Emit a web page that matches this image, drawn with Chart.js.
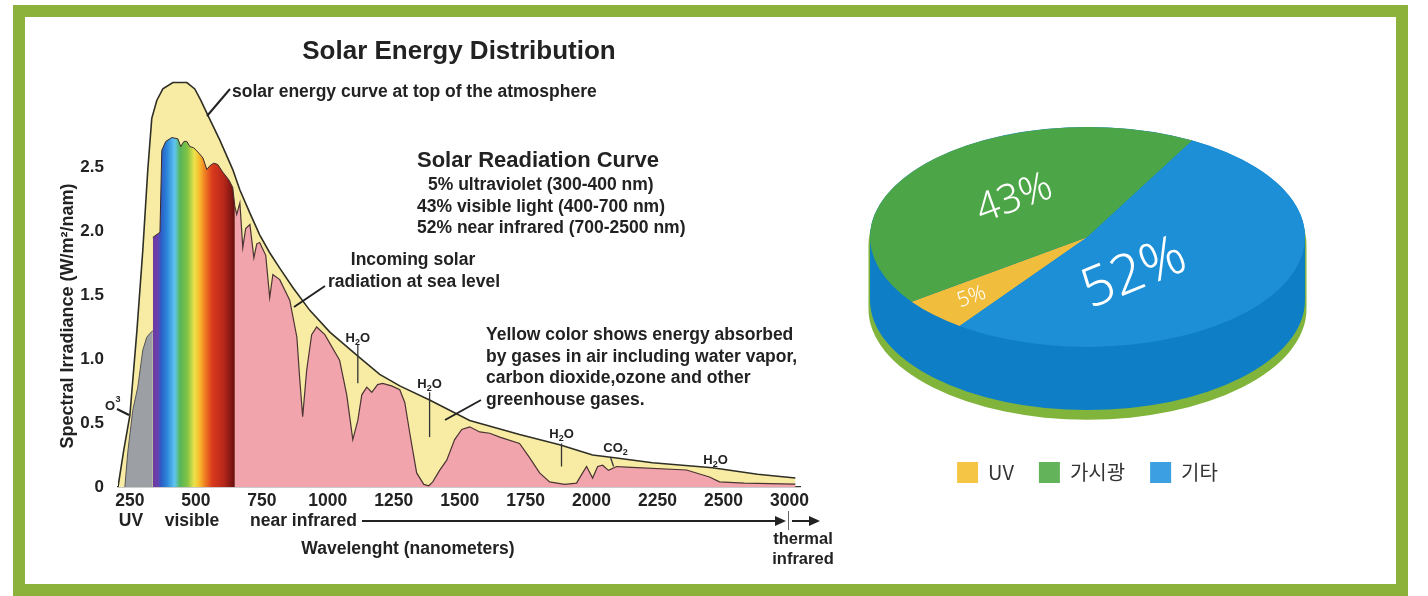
<!DOCTYPE html>
<html><head><meta charset="utf-8">
<script src="https://cdn.jsdelivr.net/npm/chart.js@4.4.1/dist/chart.umd.min.js"></script>
<style>
html,body{margin:0;padding:0;background:#fff;}
#wrap{position:relative;width:1428px;height:596px;overflow:hidden;background:#fff;}
#frame{position:absolute;left:13px;top:5px;width:1371px;height:567px;border:12px solid #8cb23c;background:#fff;}
canvas{position:absolute;left:0;top:0;}
</style></head>
<body>
<div id="wrap">
  <div id="frame"></div>
  <canvas id="spec" width="1428" height="596"></canvas>
  <canvas id="pie" width="1428" height="596"></canvas>
</div>
<script>
// ---------------- DATA ----------------
// Solar spectrum at top of the atmosphere (wavelength nm, W/m2/nm)
const toaWavelength = [205,227,250,277,299,318,333,352,375,413,466,496,519,549,591,640,667,705,742,780,818,867,932,1008,1121,1197,1273,1386,1538,1727,1879,2004,2080,2231,2458,2758,3045];
const toaIrradiance = [0,0.29,0.56,1.23,1.85,2.48,2.88,3.02,3.11,3.16,3.16,3.11,3.02,2.89,2.71,2.48,2.32,2.14,1.97,1.83,1.71,1.56,1.38,1.21,1.01,0.88,0.79,0.68,0.52,0.41,0.33,0.25,0.23,0.19,0.15,0.10,0.07];
// Sea level: ultraviolet part
const uvWavelength = [231,242,261,280,299,314,326,337];
const uvIrradiance = [0,0.27,0.60,0.78,1.07,1.17,1.20,1.22];
// Sea level: visible part
const visWavelength = [337,364,371,386,409,432,443,455,466,477,492,511,527,542,553,568,583,602,625,640,648];
const visIrradiance = [1.95,1.99,2.63,2.70,2.73,2.72,2.66,2.70,2.70,2.66,2.65,2.61,2.57,2.48,2.51,2.53,2.52,2.46,2.40,2.34,2.19];
// Sea level: infrared part
const irWavelength = [648,655,667,678,689,705,720,731,742,765,780,792,818,856,883,894,905,920,939,958,989,1045,1072,1095,1114,1129,1148,1167,1189,1208,1242,1273,1292,1311,1337,1364,1383,1398,1424,1451,1481,1508,1538,1576,1614,1652,1727,1765,1803,1841,1898,1943,1966,1981,2004,2023,2042,2064,2095,2133,2360,2447,2485,2659,3045];
const irIrradiance = [2.19,2.13,2.22,1.87,2.02,2.05,1.79,1.90,1.91,1.81,1.48,1.66,1.62,1.46,1.17,0.84,0.55,0.91,1.19,1.25,1.19,0.99,0.72,0.37,0.52,0.72,0.78,0.74,0.80,0.81,0.79,0.76,0.66,0.42,0.11,0.02,0.01,0.04,0.13,0.21,0.37,0.45,0.47,0.43,0.42,0.39,0.34,0.23,0.11,0.04,0.02,0.03,0.11,0.16,0.07,0.16,0.17,0.13,0.16,0.156,0.133,0.078,0.04,0.03,0.023];

const xTickWavelengths = [250,500,750,1000,1250,1500,1750,2000,2250,2500,3000];
const xTickLabels = ['250','500','750','1000','1250','1500','1750','2000','2250','2500','3000'];
const yTickValues = [0,0.5,1.0,1.5,2.0,2.5];
const yTickLabels = ['0','0.5','1.0','1.5','2.0','2.5'];

// absorption markers (wavelength, label)
const absorbers = [
  {w:1114, label:['H','2','O'], top:1.16, from:1.11, to:0.81},
  {w:1386, label:['H','2','O'], top:0.80, from:0.74, to:0.39},
  {w:1886, label:['H','2','O'], top:0.41, from:0.34, to:0.16},
  {w:2091, label:['CO','2',''], top:0.30, from:0.23, to:0.16, lineW:2072},
  {w:2470, label:['H','2','O'], top:0.21}
];

// Pie data
const pieLabels = ['UV', '가시광', '기타'];
const pieValues = [5, 43, 52];

// ---------------- STYLE ----------------
const toAxis = w => w <= 2500 ? w : 2500 + (w - 2500) / 2;   // axis is compressed beyond 2500 nm
const pts = (ws, vs) => ws.map((w, i) => ({x: toAxis(w), y: vs[i]}));

const rainbowStops = [
  [337,'#6b3a9c'],[356,'#6a40b0'],[368,'#2d5cc4'],[390,'#2a84da'],[420,'#5fc6ef'],[440,'#56b55a'],
  [468,'#82c343'],[494,'#ece24c'],[512,'#f7c02f'],[536,'#ee7a22'],[562,'#d93a1c'],[608,'#b5261a'],[646,'#6a0f10']
];

Chart.defaults.font.family = "'Liberation Sans', Arial, sans-serif";

const FONT = "bold 17.5px 'Liberation Sans', Arial, sans-serif";
const textNotes = [
  {t:'solar energy curve at top of the atmosphere', x:232, y:92, a:'left'},
  {t:'Solar Readiation Curve', x:417, y:161, a:'left', f:"bold 22px 'Liberation Sans', Arial, sans-serif"},
  {t:'5% ultraviolet (300-400 nm)', x:428, y:185, a:'left'},
  {t:'43% visible light (400-700 nm)', x:417, y:207, a:'left'},
  {t:'52% near infrared (700-2500 nm)', x:417, y:228, a:'left'},
  {t:'Incoming solar', x:413, y:260, a:'center'},
  {t:'radiation at sea level', x:414, y:282, a:'center'},
  {t:'Yellow color shows energy absorbed', x:486, y:335, a:'left'},
  {t:'by gases in air including water vapor,', x:486, y:357, a:'left'},
  {t:'carbon dioxide,ozone and other', x:486, y:378, a:'left'},
  {t:'greenhouse gases.', x:486, y:400, a:'left'},
  {t:'UV', x:131, y:521, a:'center'},
  {t:'visible', x:192, y:521, a:'center'},
  {t:'near infrared', x:250, y:521, a:'left'},
  {t:'Wavelenght (nanometers)', x:408, y:549, a:'center'},
  {t:'thermal', x:803, y:539, a:'center', f:"bold 16.5px 'Liberation Sans', Arial, sans-serif"},
  {t:'infrared', x:803, y:559, a:'center', f:"bold 16.5px 'Liberation Sans', Arial, sans-serif"}
];
const pointerLines = [[230,89,207,116],[325,286,294,307],[481,400,445,420],[117,409,129,415]];

const notesPlugin = {
  id: 'notes',
  afterDraw(chart) {
    const c = chart.ctx, sx = chart.scales.x, sy = chart.scales.y;
    c.save();
    c.fillStyle = '#222'; c.strokeStyle = '#222';
    c.textBaseline = 'middle';
    for (const n of textNotes) {
      c.font = n.f || FONT; c.textAlign = n.a; c.fillText(n.t, n.x, n.y);
    }
    // y axis title
    c.save();
    c.translate(68, 316); c.rotate(-Math.PI / 2);
    c.font = "bold 18px 'Liberation Sans', Arial, sans-serif"; c.textAlign = 'center';
    c.fillText('Spectral Irradiance (W/m²/nam)', 0, 0);
    c.restore();
    // O3 label
    c.font = "bold 13px 'Liberation Sans', Arial, sans-serif"; c.textAlign = 'center';
    c.fillText('O', 110, 406);
    c.font = "bold 9px 'Liberation Sans', Arial, sans-serif";
    c.fillText('3', 118, 400);
    // pointer lines
    c.lineWidth = 2;
    for (const p of pointerLines) { c.beginPath(); c.moveTo(p[0], p[1]); c.lineTo(p[2], p[3]); c.stroke(); }
    // arrows under the axis
    c.lineWidth = 2;
    c.beginPath(); c.moveTo(362, 521); c.lineTo(778, 521); c.stroke();
    c.beginPath(); c.moveTo(786, 521); c.lineTo(775, 516); c.lineTo(775, 526); c.closePath(); c.fill();
    c.lineWidth = 1; c.strokeStyle = '#666';
    c.beginPath(); c.moveTo(788.5, 511); c.lineTo(788.5, 530); c.stroke();
    c.lineWidth = 2; c.strokeStyle = '#222';
    c.beginPath(); c.moveTo(792, 521); c.lineTo(812, 521); c.stroke();
    c.beginPath(); c.moveTo(820, 521); c.lineTo(809, 516); c.lineTo(809, 526); c.closePath(); c.fill();
    // absorption markers
    const big = "bold 13px 'Liberation Sans', Arial, sans-serif", small = "bold 9px 'Liberation Sans', Arial, sans-serif";
    for (const a of absorbers) {
      const x = sx.getPixelForValue(toAxis(a.w)), y = sy.getPixelForValue(a.top);
      const [p1, sub, p2] = a.label;
      c.textAlign = 'left';
      c.font = big;
      const w1 = c.measureText(p1).width, w3 = c.measureText(p2).width;
      c.font = small;
      const w2 = c.measureText(sub).width;
      const x0 = x - (w1 + w2 + w3) / 2;
      c.font = big; c.fillText(p1, x0, y);
      c.font = small; c.fillText(sub, x0 + w1, y + 4);
      c.font = big; c.fillText(p2, x0 + w1 + w2, y);
      if (a.from !== undefined) {
        const lx = sx.getPixelForValue(toAxis(a.lineW || a.w));
        c.lineWidth = 1.3; c.strokeStyle = '#333';
        c.beginPath(); c.moveTo(lx, sy.getPixelForValue(a.from)); c.lineTo(a.lineW ? lx + 3 : lx, sy.getPixelForValue(a.to)); c.stroke();
      }
    }
    c.restore();
  }
};

const rainbowFill = (ctx) => {
  const chart = ctx.chart, sx = chart.scales.x;
  if (!sx || !chart.chartArea) return '#e08080';
  const x0 = sx.getPixelForValue(toAxis(rainbowStops[0][0]));
  const x1 = sx.getPixelForValue(toAxis(rainbowStops[rainbowStops.length - 1][0]));
  const g = chart.ctx.createLinearGradient(x0, 0, x1, 0);
  for (const [w, col] of rainbowStops) {
    g.addColorStop(Math.min(1, Math.max(0, (sx.getPixelForValue(toAxis(w)) - x0) / (x1 - x0))), col);
  }
  return g;
};

new Chart(document.getElementById('spec'), {
  type: 'line',
  data: {
    datasets: [
      {label:'Sea level UV', data: pts(uvWavelength, uvIrradiance), fill:'origin', backgroundColor:'#9c9fa3', borderColor:'#555', borderWidth:1, pointRadius:0, order:1},
      {label:'Sea level visible', data: pts(visWavelength, visIrradiance), fill:'origin', backgroundColor: rainbowFill, borderColor:'#3b2a2a', borderWidth:1, pointRadius:0, order:1},
      {label:'Sea level infrared', data: pts(irWavelength, irIrradiance), fill:'origin', backgroundColor:'#f1a4ab', borderColor:'#4a3434', borderWidth:1.2, pointRadius:0, order:1},
      {label:'Top of atmosphere', data: pts(toaWavelength, toaIrradiance), fill:'origin', backgroundColor:'#f8eca4', borderColor:'#2f2f26', borderWidth:1.6, pointRadius:0, order:2}
    ]
  },
  options: {
    responsive: false, animation: false, events: [],
    layout: {padding: {left: 0, right: 628, top: 0, bottom: 0}},
    scales: {
      x: {
        type: 'linear', min: 205, max: 2790,
        afterBuildTicks: s => { s.ticks = xTickWavelengths.map(w => ({value: toAxis(w)})); },
        afterFit: s => { s.height = 109; },
        ticks: {autoSkip: false, maxRotation: 0, padding: 4, color: '#222', font: {size: 17.5, weight: 'bold'}, callback: (v, i) => xTickLabels[i]},
        grid: {display: false, drawTicks: false},
        border: {display: true, color: '#333', width: 1.2}
      },
      y: {
        min: 0, max: 3.2,
        afterBuildTicks: s => { s.ticks = yTickValues.map(v => ({value: v})); },
        afterFit: s => { s.width = 118; },
        ticks: {padding: 14, color: '#222', font: {size: 17, weight: 'bold'}, callback: (v, i) => yTickLabels[i]},
        grid: {display: false, drawTicks: false},
        border: {display: false}
      }
    },
    plugins: {
      legend: {display: false},
      tooltip: {enabled: false},
      title: {display: true, text: 'Solar Energy Distribution', fullSize: false, color: '#222',
              font: {size: 26, weight: 'bold'}, padding: {top: 36.4, bottom: 9.8}}
    }
  },
  plugins: [notesPlugin]
});

// ---------------- PIE ----------------
const pieTopColors = ['#f0bd3d', '#4ca647', '#1c8fd6'];
const pieLegendColors = ['#f5c546', '#63b35b', '#3b9fe2'];
const pieLabelPlacement = [
  {dx:-116, dy:60, rot:-20, size:21},
  {dx:-73, dy:-38, rot:-20, size:40},
  {dx:47, dy:37, rot:-22, size:55}
];

const pie3d = {
  id: 'pie3d',
  beforeDatasetsDraw(chart, args, o) {
    const arc = chart.getDatasetMeta(0).data[0];
    const {x, y, outerRadius: r} = arc;
    const k = o.ry / r;
    const c = chart.ctx;
    c.save();
    c.translate(x, y); c.scale(1, k); c.translate(-x, -y);
    const slab = (d0, d1, rad, color) => {
      const a = d0 / k, b = d1 / k;
      c.fillStyle = color;
      c.beginPath();
      c.arc(x, y + a, rad, Math.PI, 0, false);
      c.lineTo(x + rad, y + b);
      c.arc(x, y + b, rad, 0, Math.PI, false);
      c.closePath();
      c.fill();
    };
    slab(8, o.depth + o.rim, r + 1.5, o.rimColor);
    slab(0, o.depth, r, o.sideColor);
  },
  afterDatasetsDraw(chart, args, o) {
    const c = chart.ctx;
    c.restore();
    const arc = chart.getDatasetMeta(0).data[0];
    c.save();
    c.fillStyle = '#fff'; c.textAlign = 'center'; c.textBaseline = 'middle';
    pieValues.forEach((v, i) => {
      const p = pieLabelPlacement[i];
      c.save();
      c.translate(arc.x + p.dx, arc.y + p.dy); c.rotate(p.rot * Math.PI / 180);
      c.font = `300 ${p.size}px 'Noto Sans', 'Open Sans', sans-serif`;
      c.fillText(v + '%', 0, 0);
      c.restore();
    });
    c.restore();
  }
};

new Chart(document.getElementById('pie'), {
  type: 'pie',
  data: {labels: pieLabels, datasets: [{data: pieValues, backgroundColor: pieTopColors, borderWidth: 0}]},
  options: {
    responsive: false, animation: false, events: [],
    rotation: 216, radius: 217.5,
    layout: {padding: {left: 817.5, right: 70.5, top: 37, bottom: 103}},
    plugins: {
      tooltip: {enabled: false},
      legend: {
        position: 'bottom', fullSize: false,
        labels: {
          boxWidth: 21, boxHeight: 21, padding: 25, color: '#333',
          font: {size: 20, family: "'Noto Sans CJK KR', 'Noto Sans', sans-serif"},
          generateLabels: (chart) => Chart.controllers.pie.overrides.plugins.legend.labels.generateLabels(chart)
            .map((l, i) => Object.assign(l, {fillStyle: pieLegendColors[i], strokeStyle: pieLegendColors[i], lineWidth: 0}))
        }
      },
      pie3d: {ry: 110, depth: 63, rim: 9, sideColor: '#0e7fc6', rimColor: '#80b43a'}
    }
  },
  plugins: [pie3d]
});
</script>
</body></html>
